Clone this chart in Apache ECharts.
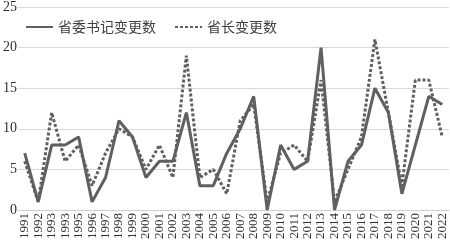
<!DOCTYPE html>
<html>
<head>
<meta charset="utf-8">
<script src="https://cdn.jsdelivr.net/npm/echarts@6/dist/echarts.min.js"></script>
<style>html,body{margin:0;padding:0;background:#fff}#c{width:450px;height:242px}</style>
</head>
<body>
<div id="c"></div>
<script>
var years = ['1991','1992','1993','1993','1995','1996','1997','1998','1999','2000','2001','2002','2003','2004','2005','2006','2007','2008','2009','2010','2011','2012','2013','2014','2015','2016','2017','2018','2019','2020','2021','2022'];
var secretaryChanges = [7,1,8,8,9,1,4,11,9,4,6,6,12,3,3,7,10,14,0,8,5,6,20,0,6,8,15,12,2,8,14,13];
var governorChanges  = [6,1,12,6,8,3,7,10,9,5,8,4,19,4,5,2,11,13,1,7,8,6,16,1,5,9,21,12,3,16,16,9];
var yTicks = [0,5,10,15,20,25];
var seriesNames = ['省委书记变更数','省长变更数'];

var chart = echarts.init(document.getElementById('c'), null, {renderer:'canvas'});
chart.setOption({
  animation:false,
  backgroundColor:'#fff',
  grid:{left:15,right:1,top:5,bottom:31,containLabel:false},
  legend:{
    top:15,left:20,itemWidth:27,itemHeight:14,itemGap:18,
    itemStyle:{opacity:0},
    textStyle:{fontFamily:'Noto Sans CJK SC',fontSize:14,color:'#404040'},
    data:seriesNames
  },
  xAxis:{
    type:'category',boundaryGap:true,data:years,
    axisLine:{lineStyle:{color:'#d0d0d0',width:1}},
    axisTick:{show:false},
    axisLabel:{rotate:90,interval:0,margin:3,fontFamily:'Liberation Serif',fontSize:13,color:'#303030'}
  },
  yAxis:{
    type:'value',min:yTicks[0],max:yTicks[yTicks.length-1],interval:5,
    axisLine:{show:false},axisTick:{show:false},
    splitLine:{lineStyle:{color:'#d9d9d9',width:1}},
    axisLabel:{margin:1,fontFamily:'Liberation Serif',fontSize:14,color:'#303030'}
  },
  series:[
    {name:seriesNames[0],type:'line',data:secretaryChanges,symbol:'none',showSymbol:false,
     lineStyle:{color:'#606060',width:3},itemStyle:{color:'#606060'}},
    {name:seriesNames[1],type:'line',data:governorChanges,symbol:'none',showSymbol:false,
     lineStyle:{color:'#606060',width:3,type:[3,2]},itemStyle:{color:'#606060'}}
  ]
});
</script>
</body>
</html>
